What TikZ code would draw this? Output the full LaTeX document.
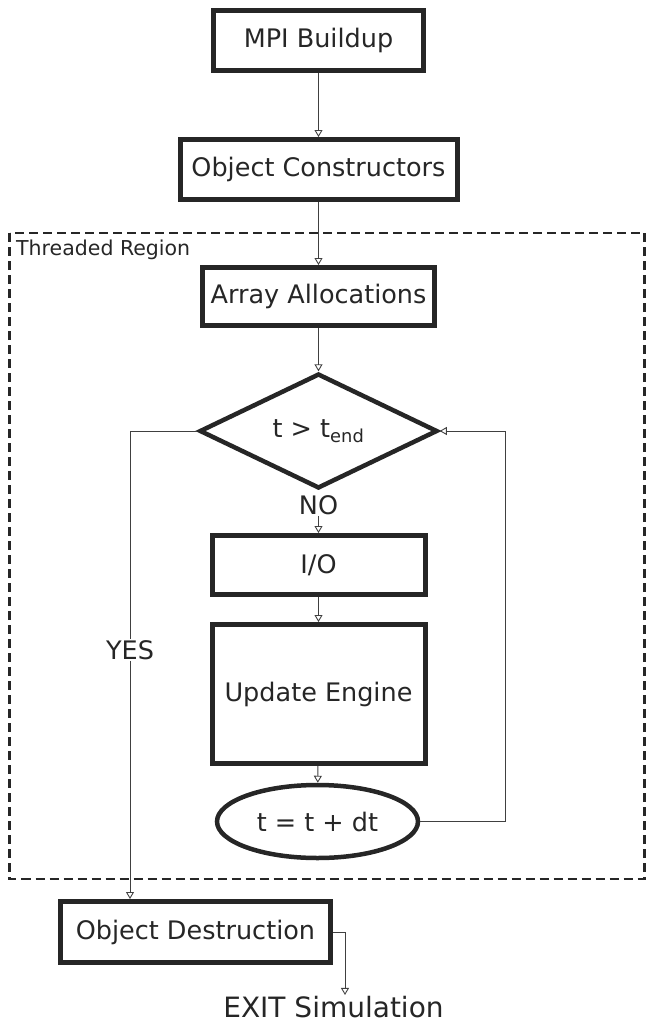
\documentclass[tikz,border=0pt]{standalone}
\usepackage{fontspec}
\setmainfont{DejaVu Sans}
\usepackage{xcolor}
\usepackage{tikz}
\usetikzlibrary{shapes.geometric, arrows.meta, positioning, calc}

\begin{document}
\begin{tikzpicture}[x=1pt, y=-1pt,
                box/.style={draw=black!85, line width=5pt, rectangle, inner sep=0pt, text=black!85, font=\fontsize{25.5}{30}\selectfont},
                link/.style={draw=black!75, line width=0.9pt, -{Triangle[open, length=7pt, width=8pt]}},
                plain/.style={draw=black!75, line width=0.9pt},
                tag/.style={text=black!85, inner sep=1pt, font=\fontsize{25.5}{30}\selectfont}]
                \useasboundingbox (0,0) rectangle (646,1023);
                \draw[black!85, line width=2.8pt, dash pattern=on 9pt off 5pt] (9.5,233) rectangle (644.5,879);
                \node[anchor=base west, text=black!85, inner sep=0pt, font=\fontsize{20.5}{24}\selectfont] (region) at (16,255) {Threaded Region};
                \node[box, minimum width=210, minimum height=60] (mpi) at (318.5,40.5) {MPI Buildup};
                \node[box, minimum width=277, minimum height=60] (ctor) at (318.5,169.5) {Object Constructors};
                \node[box, minimum width=232, minimum height=58] (alloc) at (318.5,296.5) {Array Allocations};
                \node[box, diamond, line width=4.5pt, minimum width=238, minimum height=108] (test) at (318.5,431) {t > t\textsubscript{end}};
                \node[tag] (no) at (318.5,505) {NO};
                \node[box, minimum width=213, minimum height=59] (io) at (318.5,565) {I/O};
                \node[box, minimum width=213, minimum height=139] (engine) at (318.5,694) {Update Engine};
                \node[box, ellipse, line width=4.5pt, minimum width=201, minimum height=73] (advance) at (317.5,821.5) {t = t + dt};
                \node[box, minimum width=270, minimum height=61] (dtor) at (195.5,932) {Object Destruction};
                \node[tag, font=\fontsize{28}{32}\selectfont] (exit) at (333.5,1007) {EXIT Simulation};
                \coordinate (yesbend) at (130,431);
                \coordinate (exitbend) at (345,932);
                \coordinate (loopbend) at (505.5,821.5);
                \node[tag, fill=white] (yes) at (130,650) {YES};
                \draw[link] (mpi) -- (ctor);
                \draw[link] (ctor) -- (alloc);
                \draw[link] (alloc) -- (test);
                \draw[link] (no) -- (io);
                \draw[link] (io) -- (engine);
                \draw[link] (engine) -- (advance);
                \draw[link] (advance.east) -- (loopbend) |- (test.east);
                \draw[plain] (test.west) -- (yesbend) -- (yes);
                \draw[link] (yes) -- (yesbend |- dtor.north);
                \draw[link] (dtor.east) -- (exitbend) -- (exitbend |- exit.north);
            \end{tikzpicture}
\end{document}
